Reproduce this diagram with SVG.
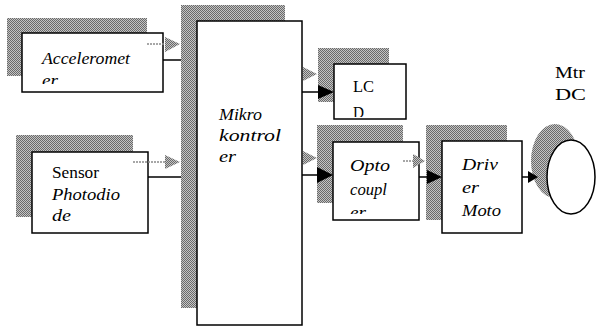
<svg xmlns="http://www.w3.org/2000/svg" width="596" height="326" viewBox="0 0 596 326">
<defs>
<pattern id="dots" patternUnits="userSpaceOnUse" width="2" height="2">
<rect width="2" height="2" fill="#c4c4c4"/>
<rect width="1" height="1" fill="#6a6a6a"/>
<rect x="1" y="1" width="1" height="1" fill="#6a6a6a"/>
</pattern>
<clipPath id="cAcc"><rect x="22" y="33" width="141" height="51"/></clipPath>
<clipPath id="cLcd"><rect x="334" y="64" width="72" height="53"/></clipPath>
<clipPath id="cOpto"><rect x="333" y="142" width="86" height="72"/></clipPath>
</defs>
<style>
.sh{fill:url(#dots);}
.box{fill:#fff;stroke:#000;stroke-width:1.5;}
.t{font-family:"Liberation Serif","DejaVu Serif",serif;font-size:16px;fill:#000;}
.i{font-style:italic;}
.ln{stroke:#000;stroke-width:1.5;fill:none;}
.dash{stroke:#8a8a8a;stroke-width:1.5;stroke-dasharray:2 1;fill:none;}
.gh{fill:url(#dots);}
.bh{fill:#000;}
</style>
<rect width="596" height="326" fill="#fff"/>

<g id="accelerometer">
<rect class="sh" x="7" y="18" width="140" height="58"/>
<rect class="box" x="22" y="33" width="141" height="59"/>
<g clip-path="url(#cAcc)">
<text class="t i" x="42" y="64" textLength="88" lengthAdjust="spacingAndGlyphs" font-family="Liberation Serif, serif">Acceleromet</text>
<text class="t i" x="42" y="86" textLength="16" lengthAdjust="spacingAndGlyphs" font-family="Liberation Serif, serif">er</text>
</g>
</g>

<g id="sensor">
<rect class="sh" x="16" y="135" width="117" height="82"/>
<rect class="box" x="32" y="152" width="116" height="81"/>
<text class="t" x="52" y="178" textLength="47" lengthAdjust="spacingAndGlyphs" font-family="Liberation Serif, serif">Sensor</text>
<text class="t i" x="52" y="200" textLength="68" lengthAdjust="spacingAndGlyphs" font-family="Liberation Serif, serif">Photodio</text>
<text class="t i" x="52" y="221" textLength="19" lengthAdjust="spacingAndGlyphs" font-family="Liberation Serif, serif">de</text>
</g>

<g id="mikrokontroler">
<rect class="sh" x="181" y="5" width="104" height="303"/>
<rect class="box" x="197" y="21" width="105" height="304"/>
<text class="t i" x="219" y="120" textLength="43" lengthAdjust="spacingAndGlyphs" font-family="Liberation Serif, serif">Mikro</text>
<text class="t i" x="219" y="141" textLength="62" lengthAdjust="spacingAndGlyphs" font-family="Liberation Serif, serif">kontrol</text>
<text class="t i" x="219" y="162" textLength="17" lengthAdjust="spacingAndGlyphs" font-family="Liberation Serif, serif">er</text>
</g>

<g id="lcd">
<rect class="sh" x="318" y="48" width="71" height="54"/>
<rect class="box" x="334" y="64" width="72" height="55"/>
<g clip-path="url(#cLcd)">
<text class="t" x="353" y="92" textLength="21" lengthAdjust="spacingAndGlyphs" font-family="Liberation Serif, serif">LC</text>
<text class="t" x="353" y="118" textLength="11" lengthAdjust="spacingAndGlyphs" font-family="Liberation Serif, serif">D</text>
</g>
</g>

<g id="optocoupler">
<rect class="sh" x="317" y="125" width="86" height="78"/>
<rect class="box" x="333" y="142" width="86" height="78"/>
<g clip-path="url(#cOpto)">
<text class="t i" x="350" y="171" textLength="40" lengthAdjust="spacingAndGlyphs" font-family="Liberation Serif, serif">Opto</text>
<text class="t i" x="350" y="195" textLength="37" lengthAdjust="spacingAndGlyphs" font-family="Liberation Serif, serif">coupl</text>
<text class="t i" x="350" y="218" textLength="16" lengthAdjust="spacingAndGlyphs" font-family="Liberation Serif, serif">er</text>
</g>
</g>

<g id="driver">
<rect class="sh" x="426" y="125" width="81" height="95"/>
<rect class="box" x="442" y="141" width="80" height="92"/>
<text class="t i" x="462" y="170" textLength="36" lengthAdjust="spacingAndGlyphs" font-family="Liberation Serif, serif">Driv</text>
<text class="t i" x="462" y="193" textLength="17" lengthAdjust="spacingAndGlyphs" font-family="Liberation Serif, serif">er</text>
<text class="t i" x="462" y="216" textLength="39" lengthAdjust="spacingAndGlyphs" font-family="Liberation Serif, serif">Moto</text>
</g>

<g id="motor">
<ellipse class="sh" cx="555" cy="161" rx="24" ry="37"/>
<ellipse class="box" cx="571" cy="177" rx="24" ry="37"/>
<text class="t" x="555" y="78" textLength="30" lengthAdjust="spacingAndGlyphs" font-family="Liberation Serif, serif">Mtr</text>
<text class="t" x="555" y="100" textLength="31" lengthAdjust="spacingAndGlyphs" font-family="Liberation Serif, serif">DC</text>
</g>

<g id="connectors">
<line class="dash" x1="147" y1="44" x2="167" y2="44"/>
<polygon class="gh" points="165,37 180,44 165,52"/>
<line class="ln" x1="163" y1="60" x2="181" y2="60"/>
<line class="dash" x1="133" y1="162" x2="167" y2="162"/>
<polygon class="gh" points="165,155 180,162 165,169"/>
<line class="ln" x1="148" y1="177" x2="181" y2="177"/>
<polygon class="gh" points="303,67 317,74 303,81"/>
<polygon class="gh" points="303,151 317,158 303,165"/>
<line class="ln" x1="302" y1="92" x2="320" y2="92"/>
<polygon class="bh" points="318,85 334,92 318,99"/>
<line class="ln" x1="302" y1="175" x2="319" y2="175"/>
<polygon class="bh" points="317,167 333,175 317,183"/>
<line class="dash" x1="403" y1="161" x2="414" y2="161"/>
<polygon class="gh" points="413,154 425,161 413,168"/>
<line class="ln" x1="419" y1="177" x2="429" y2="177"/>
<polygon class="bh" points="427,170 442,177 427,184"/>
<line class="ln" x1="522" y1="177" x2="530" y2="177"/>
<polygon class="bh" points="528,171 538,177 528,183"/>
</g>
</svg>
